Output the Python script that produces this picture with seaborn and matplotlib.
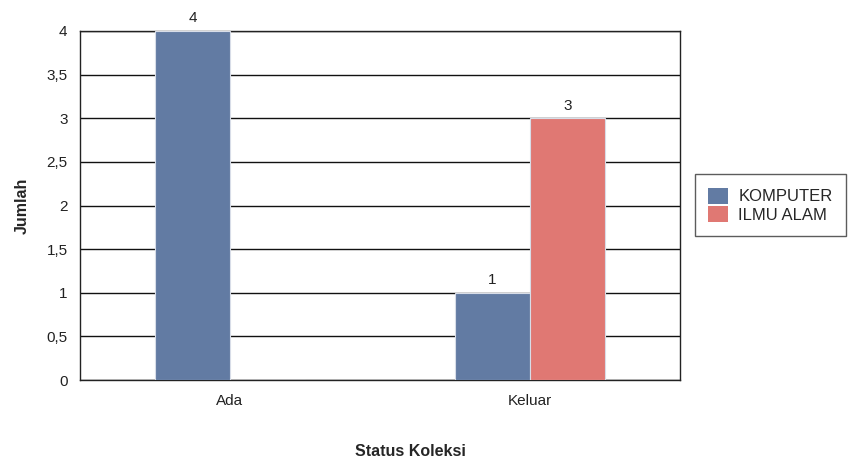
import matplotlib
matplotlib.use("Agg")
import matplotlib.pyplot as plt
import seaborn as sns
import pandas as pd

categories = ["Ada", "Keluar"]
series_names = ["KOMPUTER", "ILMU ALAM"]
komputer = [4, 1]
ilmu_alam = [0, 3]
y_ticks = [0, 0.5, 1, 1.5, 2, 2.5, 3, 3.5, 4]
y_tick_labels = ["0", "0,5", "1", "1,5", "2", "2,5", "3", "3,5", "4"]
colors = ["#627BA3", "#E07873"]

df = pd.DataFrame({
    "Status Koleksi": categories * 2,
    "Jenis": [series_names[0]] * 2 + [series_names[1]] * 2,
    "Jumlah": komputer + ilmu_alam,
})

sns.set_style("white")
plt.rcParams["font.family"] = ["Liberation Sans", "DejaVu Sans"]

fig = plt.figure(figsize=(8.48, 4.63), dpi=100)
ax = fig.add_axes([80 / 848, 1 - 380 / 463, 600 / 848, 349 / 463])

sns.barplot(data=df, x="Status Koleksi", y="Jumlah", hue="Jenis",
            order=categories, hue_order=series_names, palette=colors,
            width=0.5, saturation=1, ax=ax, edgecolor="#d8dde8", linewidth=0.8,
            zorder=3)

for cont in ax.containers:
    labels = [f"{v:g}" if v > 0 else "" for v in cont.datavalues]
    ax.bar_label(cont, labels=labels, padding=4, fontsize=11, color="#222222")

ax.set_xlim(-0.5, 1.5)
ax.set_ylim(0, 4)
ax.set_yticks(y_ticks)
ax.set_yticklabels(y_tick_labels, fontsize=11, color="#222222")
ax.set_xticks([0, 1])
ax.set_xticklabels(categories, fontsize=11, color="#222222")
ax.set_xticks([0.5], minor=True)
ax.tick_params(axis="x", which="major", length=0, pad=10)
ax.tick_params(axis="x", which="minor", length=4, direction="in", color="#222222", width=1)
ax.tick_params(axis="y", length=0, pad=9)
ax.grid(axis="y", color="#111111", linewidth=1, zorder=0)
ax.set_axisbelow(True)
for s in ax.spines.values():
    s.set_visible(True)
    s.set_color("#222222")
    s.set_linewidth(1)

ax.set_xlabel("Status Koleksi", fontsize=11.5, fontweight="bold")
ax.xaxis.set_label_coords((410 - 80) / 600, (380 - 451) / 349)
ax.xaxis.label.set_verticalalignment("center")
ax.set_ylabel("Jumlah", fontsize=11.5, fontweight="bold")
ax.yaxis.set_label_coords((22 - 80) / 600, 0.5)
ax.yaxis.label.set_verticalalignment("center")

leg = ax.legend(loc="center left", bbox_to_anchor=(695 / 848, 1 - 205 / 463),
                bbox_transform=fig.transFigure, frameon=True, fancybox=False,
                fontsize=12, handlelength=1.2, handleheight=1.1,
                handletextpad=0.6, borderpad=0.8, labelspacing=0.1,
                borderaxespad=0)
leg.get_frame().set_edgecolor("#333333")
leg.get_frame().set_linewidth(1)
for h in leg.legend_handles:
    h.set_edgecolor("none")

fig.savefig("out.png", dpi=100)
